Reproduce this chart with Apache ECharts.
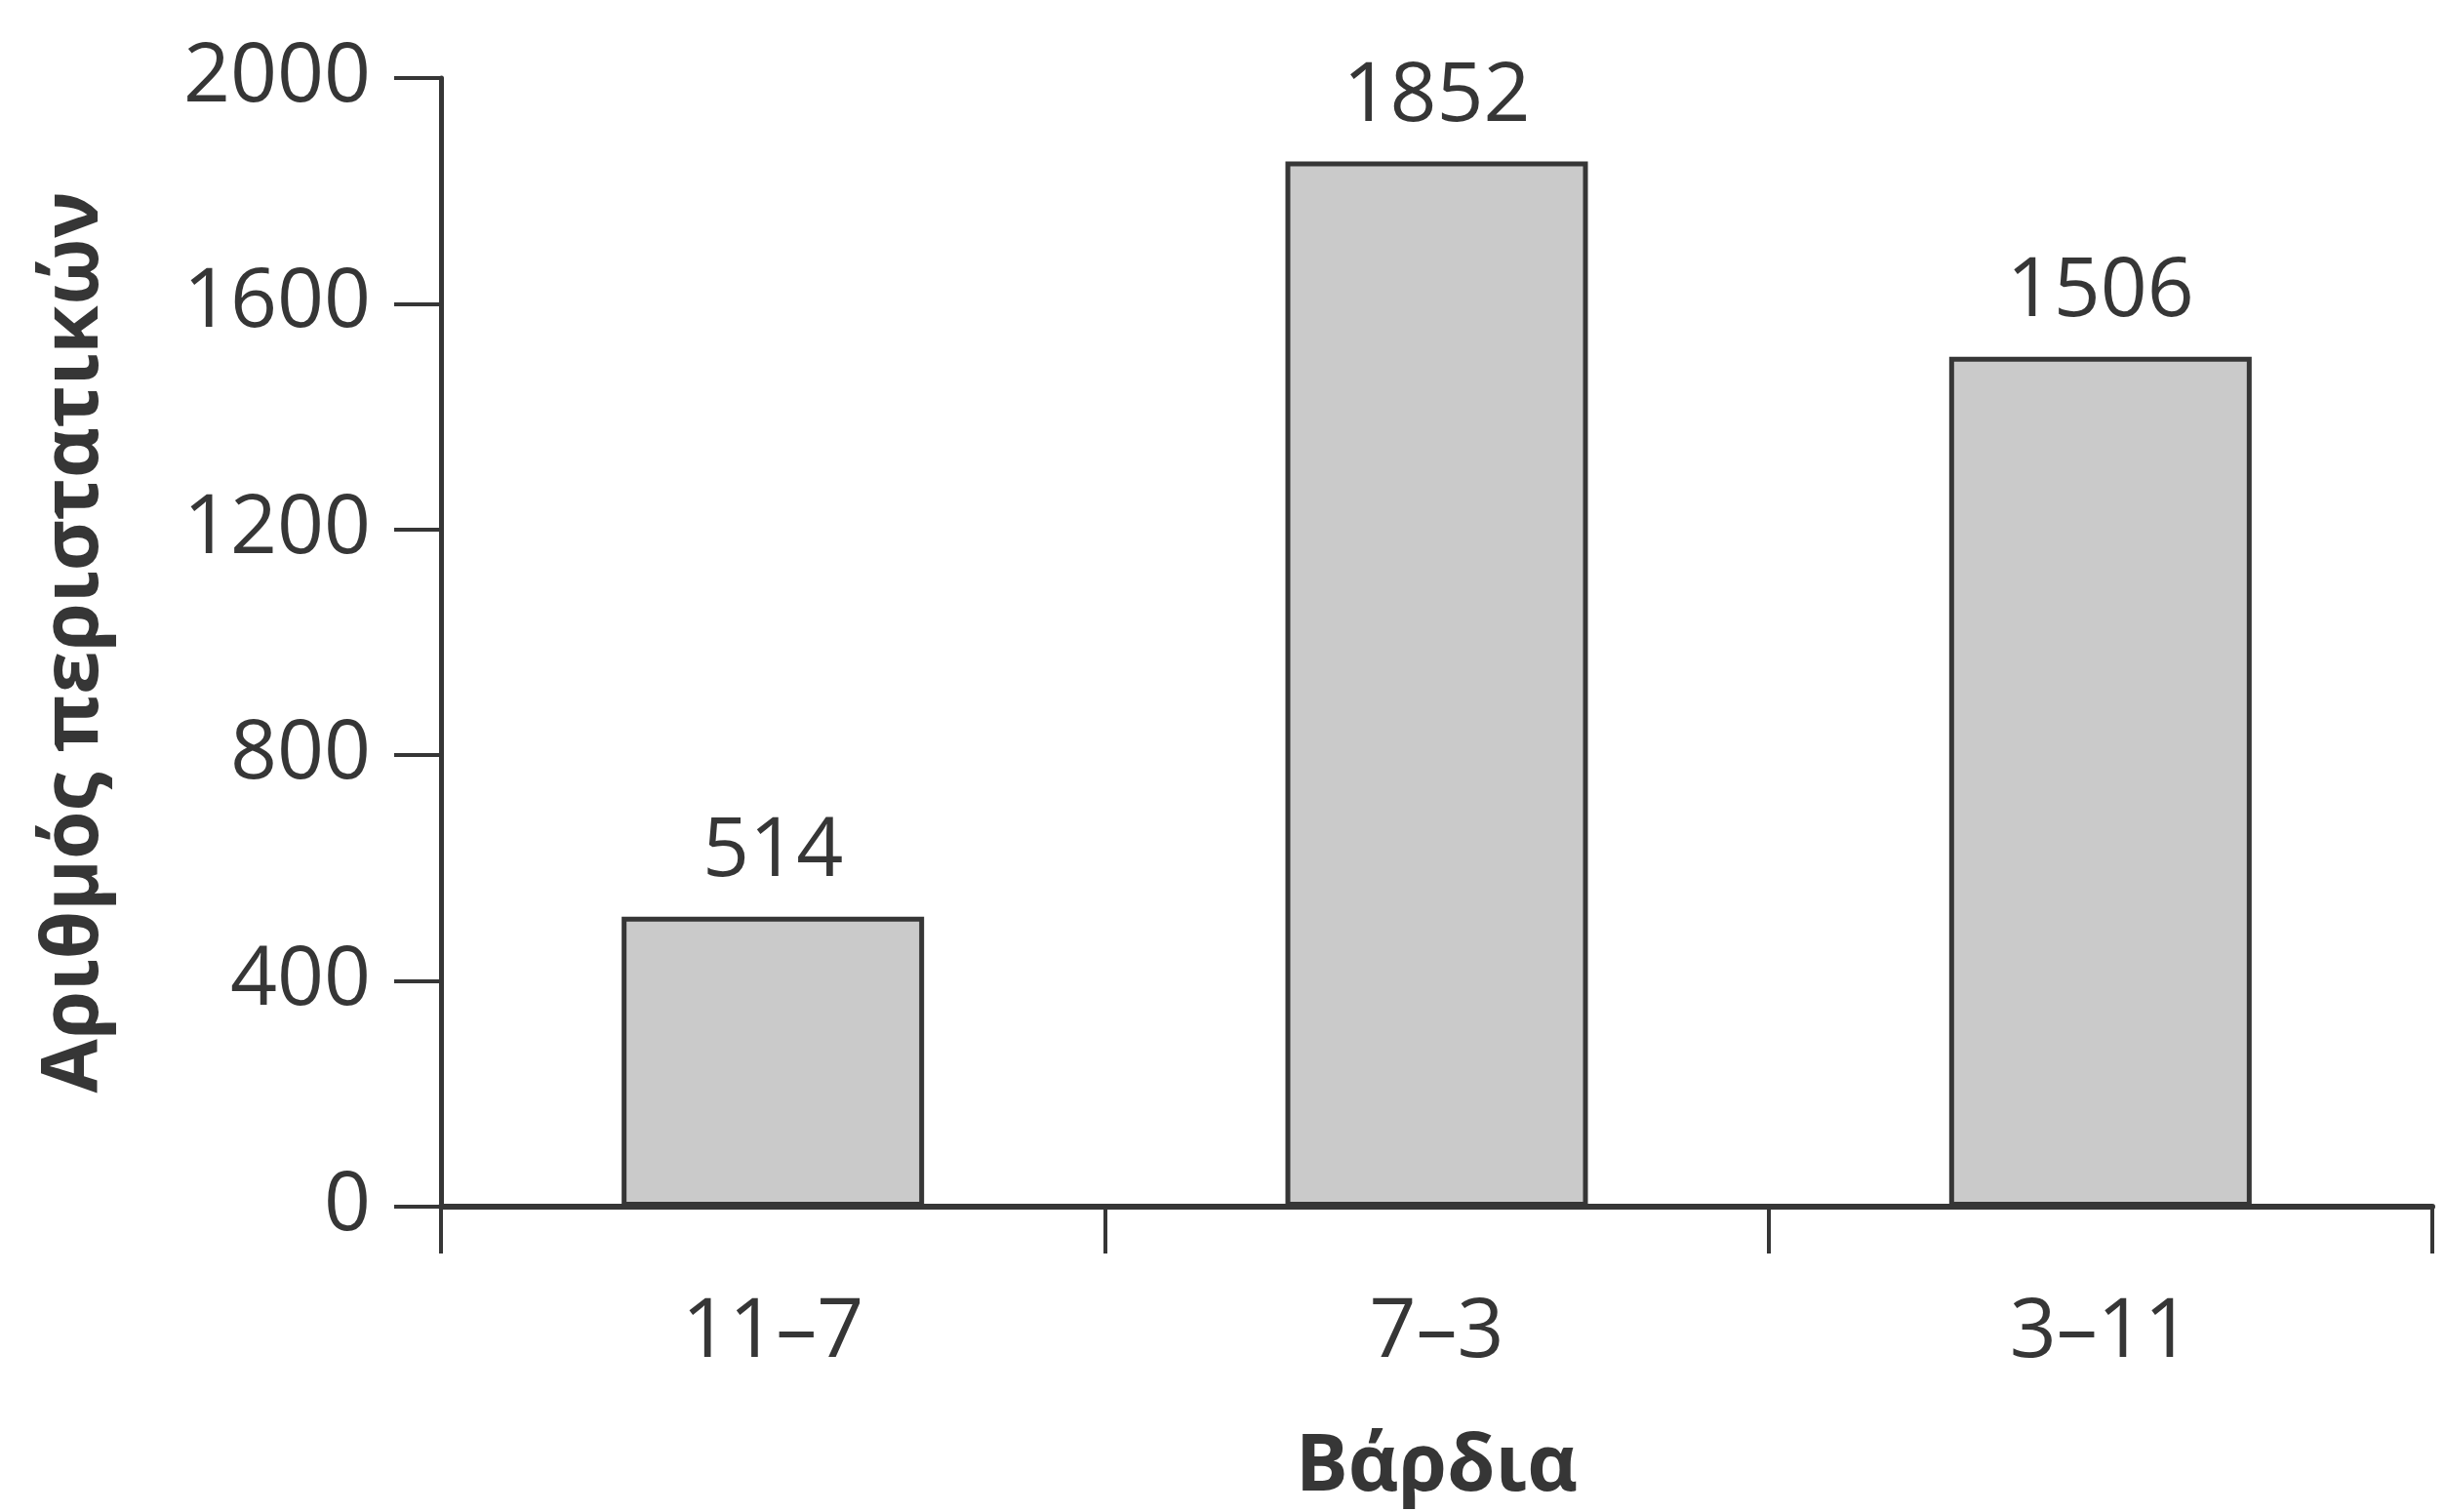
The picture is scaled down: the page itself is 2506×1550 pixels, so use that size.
<!DOCTYPE html>
<html>
<head>
<meta charset="utf-8">
<script src="https://cdn.jsdelivr.net/npm/echarts@6/dist/echarts.min.js"></script>
<style>
html,body{margin:0;padding:0;background:#fff;}
#chart{width:2506px;height:1550px;}
</style>
</head>
<body>
<div id="chart"></div>
<script>
const categories = ['11–7', '7–3', '3–11'];
const values = [514, 1852, 1506];
const yTicks = [0, 400, 800, 1200, 1600, 2000];
const xAxisName = 'Βάρδια';
const yAxisName = 'Αριθμός περιστατικών';

const ink = '#363636';
const font = '"Open Sans", "Noto Sans", sans-serif';

const chart = echarts.init(document.getElementById('chart'));
chart.setOption({
  backgroundColor: '#ffffff',
  animation: false,
  grid: { left: 452, right: 13, top: 80, bottom: 312, containLabel: false },
  xAxis: {
    type: 'category',
    data: categories,
    boundaryGap: true,
    name: xAxisName,
    nameLocation: 'middle',
    nameGap: 228,
    nameTextStyle: { fontFamily: font, fontWeight: 'bold', fontSize: 80, color: ink },
    axisLine: { show: true, lineStyle: { color: ink, width: 6 } },
    axisTick: { show: true, inside: false, length: 48, alignWithLabel: false, lineStyle: { color: ink, width: 4 } },
    axisLabel: { margin: 88, fontFamily: font, fontSize: 84, color: ink },
    splitLine: { show: false }
  },
  yAxis: {
    type: 'value',
    min: yTicks[0],
    max: yTicks[yTicks.length - 1],
    interval: yTicks[1] - yTicks[0],
    name: yAxisName,
    nameLocation: 'middle',
    nameGap: 335,
    nameRotate: 90,
    nameTextStyle: { fontFamily: font, fontWeight: 'bold', fontSize: 80, color: ink },
    axisLine: { show: true, lineStyle: { color: ink, width: 5 } },
    axisTick: { show: true, inside: false, length: 48, lineStyle: { color: ink, width: 4 } },
    axisLabel: { margin: 72, fontFamily: font, fontSize: 84, color: ink, formatter: v => String(v) },
    splitLine: { show: false }
  },
  series: [{
    type: 'bar',
    data: values,
    barWidth: 310,
    itemStyle: { color: '#cacaca', borderColor: ink, borderWidth: 5 },
    label: { show: true, position: 'top', distance: 24, fontFamily: font, fontSize: 84, color: ink }
  }]
});
</script>
</body>
</html>
